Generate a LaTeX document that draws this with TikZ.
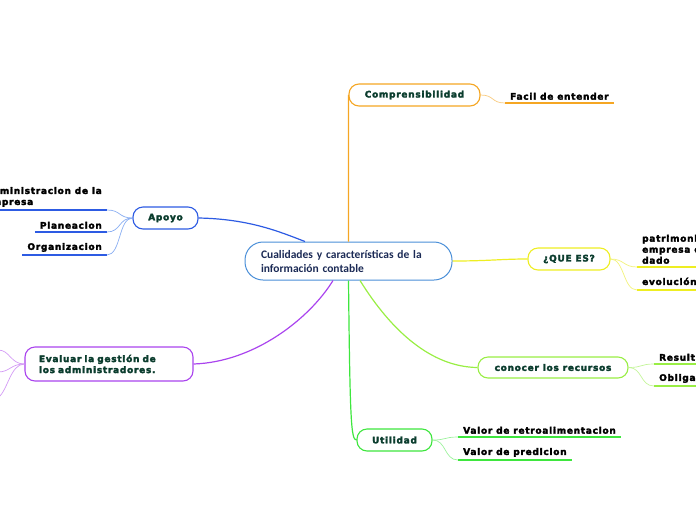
\documentclass[tikz,border=0pt]{standalone}
\usepackage{fontspec}
\usepackage{tikz}
\usetikzlibrary{positioning}

\newfontfamily\heavyfont{DejaVu Sans}[LetterSpace=8, BoldFeatures={FakeBold=3}]
\newfontfamily\centfont{Carlito}

\definecolor{dkgreen}{HTML}{0B3D2E}
\definecolor{navy}{HTML}{1B2A55}
\definecolor{cblue}{HTML}{4A8FD8}
\definecolor{mblue}{HTML}{2D5BE3}
\definecolor{lblue}{HTML}{8AAEF2}
\definecolor{orng}{HTML}{F5A623}
\definecolor{lorng}{HTML}{F8CB80}
\definecolor{yel}{HTML}{EEEE22}
\definecolor{lyel}{HTML}{F2F27A}
\definecolor{lgrn}{HTML}{99EE44}
\definecolor{llgrn}{HTML}{C4F59A}
\definecolor{grn}{HTML}{3EE63E}
\definecolor{lgrn2}{HTML}{9CF29C}
\definecolor{purp}{HTML}{AA44EE}
\definecolor{lpurp}{HTML}{D39AF5}

\begin{document}
\begin{tikzpicture}[x=1pt, y=-1pt,
    central/.style={rectangle, draw=cblue, line width=1pt, rounded corners=18pt, fill=white,
        minimum height=38pt, inner xsep=16pt, inner ysep=0pt, text width=175pt, align=left,
        text=navy, font=\centfont\bfseries\fontsize{11.5}{14}\selectfont},
    branch/.style={rectangle, draw, line width=1.1pt, rounded corners=10pt, fill=white,
        minimum height=22pt, inner sep=0pt, text=dkgreen,
        font=\heavyfont\bfseries\fontsize{9}{11}\selectfont},
    leaf/.style={inner xsep=5pt, inner ysep=3pt, text=black,
        font=\heavyfont\bfseries\fontsize{9}{11}\selectfont},
    main/.style={line width=1.2pt},
    thin/.style={line width=0.7pt},
    uline/.style={line width=1.5pt}
]
    \useasboundingbox (0,0) rectangle (696,520);

    % Centre
    \node[central] (cualidades) at (348.5,261) {Cualidades y características de la\\información contable};

    % Main topics
    \node[branch, draw=mblue, minimum width=65pt] (apoyo) at (165.5,218) {Apoyo};
    \node[branch, draw=purp, minimum width=168pt, minimum height=34pt, inner xsep=14pt,
        text width=140pt, align=left] (evaluar) at (109,364) {Evaluar la gestión de\\los administradores.};
    \node[branch, draw=orng, minimum width=131pt] (compr) at (414.5,95) {Comprensibilidad};
    \node[branch, draw=yel, minimum width=82pt] (quees) at (569,259) {¿QUE ES?};
    \node[branch, draw=lgrn, minimum width=150pt, minimum height=21pt] (conocer) at (553,367.5) {conocer los recursos};
    \node[branch, draw=grn, minimum width=75pt] (utilidad) at (394.5,440) {Utilidad};

    % Subtopics
    \node[leaf, anchor=south east, align=left] (admin) at (107,210) {Administracion de la\\empresa};
    \node[leaf, anchor=south east] (planeacion) at (107,232) {Planeacion};
    \node[leaf, anchor=south east] (organizacion) at (107,255) {Organizacion};
    \node[leaf, anchor=south west] (facil) at (505,103) {Facil de entender};
    \node[leaf, anchor=south west, align=left] (patrimonio) at (637,267) {patrimonio de la\\empresa en un momento\\dado};
    \node[leaf, anchor=south west] (evolucion) at (637,290) {evolución del patrimonio};
    \node[leaf, anchor=south west] (resultados) at (654,364) {Resultados};
    \node[leaf, anchor=south west] (obligaciones) at (654,386) {Obligaciones};
    \node[leaf, anchor=south west] (retro) at (458,437) {Valor de retroalimentacion};
    \node[leaf, anchor=south west] (predicion) at (458,460) {Valor de predicion};

    % Off-page ends
    \coordinate (ev1) at (-2,350);
    \coordinate (ev2) at (-2,372);
    \coordinate (ev3) at (-2,398);

    % Underlines
    \draw[uline, mblue] ([xshift=-20pt]admin.south west) -- (admin.south east);
    \draw[uline, mblue] (planeacion.south west) -- (planeacion.south east);
    \draw[uline, mblue] (organizacion.south west) -- (organizacion.south east);
    \draw[uline, orng] (facil.south west) -- (facil.south east);
    \draw[uline, yel] (patrimonio.south west) -- (patrimonio.south east);
    \draw[uline, yel] (evolucion.south west) -- (evolucion.south east);
    \draw[uline, lgrn] (resultados.south west) -- (resultados.south east);
    \draw[uline, lgrn] (obligaciones.south west) -- (obligaciones.south east);
    \draw[uline, grn] (retro.south west) -- (retro.south east);
    \draw[uline, grn] (predicion.south west) -- (predicion.south east);

    % Main connectors
    \draw[main, mblue] (apoyo.east) .. controls (250,219) and (280,232) .. ([xshift=-43.5pt]cualidades.north);
    \draw[main, purp] ([xshift=-15.5pt]cualidades.south) .. controls (310,318) and (255,362) .. (evaluar.east);
    \draw[main, orng] (cualidades.north) .. controls (348.5,160) and (348.5,100) .. (compr.west);
    \draw[main, yel] (cualidades.east) .. controls (490,261) and (500,259) .. (quees.west);
    \draw[main, lgrn] ([xshift=11.5pt]cualidades.south) .. controls (392,332) and (432,367) .. (conocer.west);
    \draw[main, grn] (cualidades.south) .. controls (350,420) and (351,440) .. (utilidad.west);

    % Sub connectors
    \draw[thin, lblue] (apoyo.west) .. controls +(-14,0) and +(14,0) .. (admin.south east);
    \draw[thin, lblue] (apoyo.west) .. controls +(-14,0) and +(14,0) .. (planeacion.south east);
    \draw[thin, lblue] (apoyo.west) .. controls +(-14,0) and +(14,0) .. (organizacion.south east);
    \draw[thin, lpurp] (evaluar.west) .. controls +(-14,0) and +(12,0) .. (ev1);
    \draw[thin, lpurp] (evaluar.west) .. controls +(-14,0) and +(12,0) .. (ev2);
    \draw[thin, lpurp] (evaluar.west) .. controls +(-14,0) and +(10,-8) .. (ev3);
    \draw[thin, lorng] (compr.east) .. controls +(14,0) and +(-14,0) .. (facil.south west);
    \draw[thin, lyel] (quees.east) .. controls +(14,0) and +(-14,0) .. (patrimonio.south west);
    \draw[thin, lyel] (quees.east) .. controls +(14,0) and +(-14,0) .. (evolucion.south west);
    \draw[thin, llgrn] (conocer.east) .. controls +(14,0) and +(-14,0) .. (resultados.south west);
    \draw[thin, llgrn] (conocer.east) .. controls +(14,0) and +(-14,0) .. (obligaciones.south west);
    \draw[thin, lgrn2] (utilidad.east) .. controls +(14,0) and +(-14,0) .. (retro.south west);
    \draw[thin, lgrn2] (utilidad.east) .. controls +(14,0) and +(-14,0) .. (predicion.south west);
\end{tikzpicture}
\end{document}
